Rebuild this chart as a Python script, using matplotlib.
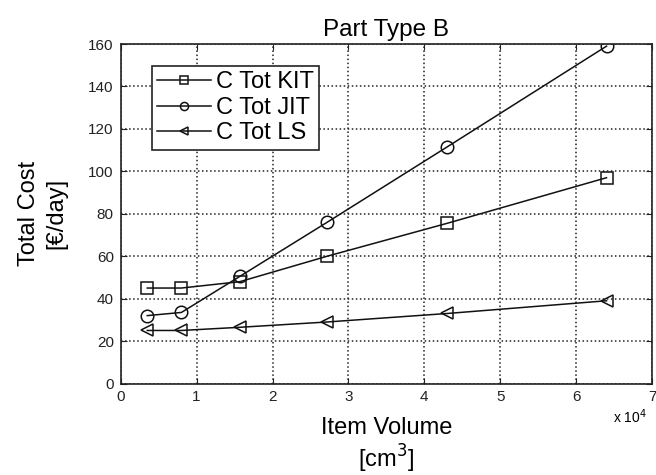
import matplotlib
matplotlib.use('Agg')
import matplotlib.pyplot as plt

plt.rcParams['font.family'] = ['Liberation Sans', 'DejaVu Sans']

# Item volume (x 10^4 cm^3)
volume = [0.35, 0.8, 1.57, 2.72, 4.3, 6.4]
c_tot_kit = [45, 45, 48, 60, 75.5, 97]
c_tot_jit = [32, 33.5, 50.5, 76, 111.5, 159]
c_tot_ls = [25, 25, 26.5, 29, 33, 39]

fig = plt.figure(figsize=(6.56, 4.75), dpi=100)
ax = fig.add_axes([0.184, 0.1926, 0.81, 0.7147])

line_kw = dict(color='#111111', lw=1.1, ms=9, mfc='none', mec='#111111',
               mew=1.1)
ax.plot(volume, c_tot_kit, marker='s', label='C Tot KIT', **line_kw)
ax.plot(volume, c_tot_jit, marker='o', label='C Tot JIT', **line_kw)
ax.plot(volume, c_tot_ls, marker='<', label='C Tot LS', **line_kw)

ax.set_xlim(0, 7)
ax.set_ylim(0, 160)
ax.set_xticks(range(0, 8))
ax.set_yticks(range(0, 161, 20))
ax.tick_params(direction='in', top=True, right=True, labelsize=11,
               length=4, colors='#222222', pad=5)
ax.grid(True, linestyle=':', color='#222222', linewidth=1.1)
for s in ax.spines.values():
    s.set_linewidth(1.2)
    s.set_color('#222222')

ax.set_title('Part Type B', fontsize=17.5, pad=6)
ax.set_ylabel('Total Cost\n[€/day]', fontsize=17, linespacing=1.3)
ax.yaxis.set_label_coords(-0.1, 0.5)
ax.set_xlabel('Item Volume\n[cm$^3$]', fontsize=17, linespacing=1.15)
ax.xaxis.set_label_coords(0.5, -0.1)
ax.text(0.9586, -0.099, r'x 10$^4$', transform=ax.transAxes, fontsize=10,
        ha='center', va='center')

leg = ax.legend(loc='upper left', bbox_to_anchor=(0.058, 0.935), fontsize=17,
                fancybox=False, edgecolor='#222222', framealpha=1,
                handlelength=2.3, borderpad=0.22, labelspacing=0.15,
                handletextpad=0.2, markerscale=0.65, borderaxespad=0)
leg.get_frame().set_linewidth(1.2)

fig.savefig('out.png', dpi=100)
